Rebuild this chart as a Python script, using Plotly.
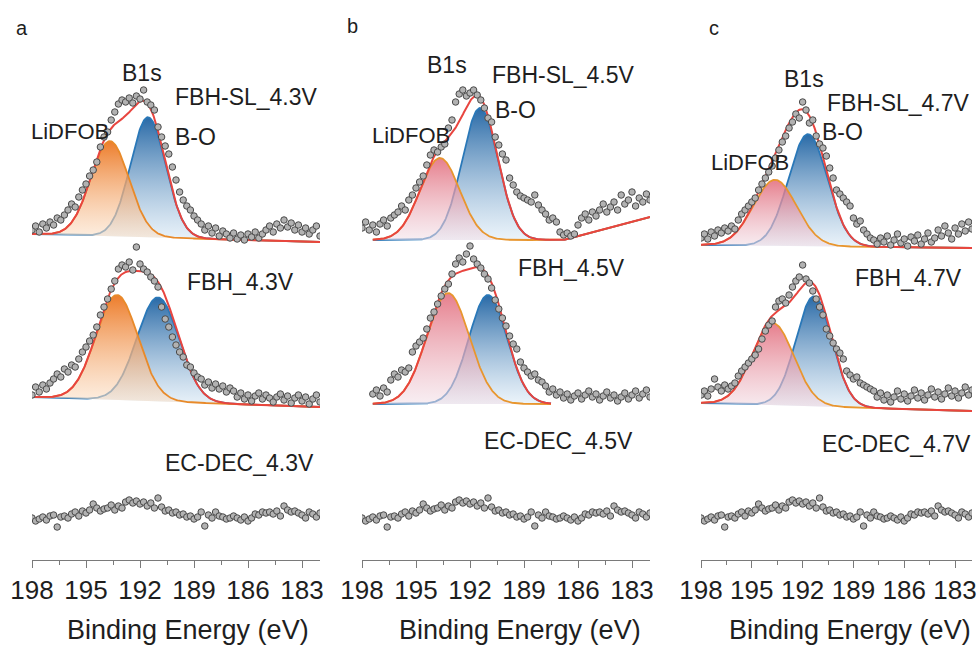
import numpy as np
import plotly.graph_objects as go

# ---------------- data ----------------
# binding-energy grid of the measured points (eV), 198.0 -> 182.0 in 0.2 eV steps
ENERGY = [round(198.0 - 0.2 * i, 1) for i in range(81)]

# measured intensities (a.u., relative to each spectrum's own baseline)
A_SL_43 = [12, 16, 10, 18, 14, 20, 17, 24, 22, 27, 32, 38, 35, 45, 52, 58, 66, 72, 80,
           95, 105, 110, 122, 130, 138, 142, 140, 144, 139, 146, 143, 152, 140, 137, 132,
           115, 105, 96, 88, 75, 62, 50, 42, 36, 32, 26, 22, 18, 12, 16, 9, 14, 6, 11, 8, 4,
           9, 3, 7, 2, 8, 5, 10, 4, 8, 12, 16, 10, 18, 14, 22, 15, 19, 12, 17, 10, 14, 8, 12, 16, 6]
A_FBH_43 = [12, 20, 15, 22, 18, 24, 28, 33, 30, 38, 35, 42, 40, 48, 55, 60, 66, 72, 80,
            92, 100, 108, 118, 126, 138, 142, 140, 145, 137, 160, 143, 138, 135, 130, 126, 120,
            100, 88, 80, 70, 62, 55, 50, 42, 40, 34, 30, 28, 22, 25, 19, 23, 18, 21, 15, 19,
            16, 10, 14, 8, 12, 6, 11, 14, 8, 12, 9, 5, 10, 13, 7, 11, 4, 9, 12, 6, 10, 3, 8, 12, 5]
EC_DEC = [2, -1, 1, 3, 0, 4, 5, -7, 3, 4, 2, 6, 8, 4, 9, 7, 10, 16, 12, 9, 11, 12, 15, 10,
          14, 12, 18, 20, 17, 19, 16, 18, 14, 17, 12, 22, 13, 9, 10, 7, 8, 5, 6, 3, 4, 1, 3, 8,
          -6, 5, 2, 8, 4, 3, 1, 2, 4, 2, 0, 3, -1, 2, 6, 5, 8, 7, 8, 6, 9, 4, 14, 10, 8, 9, 7,
          5, 2, 8, 6, 3, 7]
B_SL_45 = [12, 18, 10, 15, 8, 16, 20, 14, 22, 25, 28, 34, 30, 40, 45, 52, 58, 64, 75, 85,
           90, 88, 93, 96, 112, 120, 138, 146, 150, 144, 147, 150, 145, 140, 132, 122, 118,
           103, 95, 86, 80, 62, 55, 48, 44, 42, 40, 38, 45, 35, 30, 26, 20, 22, 18, 8, 5, 7, 4,
           6, 15, 22, 26, 20, 28, 24, 30, 36, 28, 33, 38, 30, 45, 36, 40, 48, 34, 42, 38, 46, 40]
B_FBH_45 = [None, None, None, 10, 14, 8, 16, 12, 24, 30, 27, 34, 32, 36, 52, 58, 62, 66, 75,
            86, 92, 100, 108, 115, 120, 130, 140, 146, 142, 150, 158, 145, 140, 136, 130, 125,
            116, 104, 95, 86, 78, 68, 60, 55, 42, 36, 32, 28, 30, 24, 22, 18, 12, 15, 9, 12, 6,
            10, 4, 8, 11, 5, 9, 13, 7, 10, 4, 8, 12, 6, 9, 3, 7, 11, 5, 9, 13, 6, 10, 14, 7]
C_SL_47 = [10, 14, 9, 16, 12, 18, 15, 20, 17, 22, 19, 28, 34, 38, 42, 46, 50, 58, 64, 70,
           76, 82, 90, 98, 106, 112, 120, 126, 134, 130, 146, 138, 125, 128, 112, 104, 100,
           92, 80, 70, 58, 54, 50, 46, 42, 30, 24, 27, 18, 14, 10, 8, 4, 10, 6, 12, 3, 8, 14,
           5, 9, 2, 11, 7, 13, 4, 9, 15, 6, 10, 18, 12, 22, 15, 9, 20, 14, 24, 17, 26, 19]
C_FBH_47 = [16, 20, 15, 22, 32, 24, 20, 26, 22, 25, 28, 35, 40, 44, 48, 52, 56, 62, 72, 80,
            86, 90, 104, 110, 112, 108, 116, 124, 130, 134, 146, 132, 128, 120, 112, 104, 96,
            82, 75, 68, 62, 58, 52, 40, 36, 32, 34, 28, 26, 24, 22, 20, 14, 18, 11, 16, 9, 14,
            20, 12, 17, 10, 15, 21, 13, 18, 11, 16, 22, 14, 19, 12, 17, 23, 15, 20, 13, 18, 24,
            16, 21]

# peak-fit results (order: SL_4.3, FBH_4.3, SL_4.5, FBH_4.5, SL_4.7, FBH_4.7)
LIDFOB_CENTER = [193.67, 193.28, 193.67, 193.22, 193.63, 193.75]
LIDFOB_HEIGHT = [95, 105, 82, 111, 66, 82]
LIDFOB_FWHM = [2.5, 2.75, 2.6, 2.8, 3.0, 2.9]
BO_CENTER = [191.55, 191.0, 191.44, 191.0, 191.68, 191.33]
BO_HEIGHT = [120, 104, 132, 109, 112, 110]
BO_FWHM = [2.3, 2.75, 2.35, 2.5, 2.7, 2.5]
# background knots (eV, intensity)
BG_E = [[198, 182], [198, 182], [197.4, 186.8, 182], [197.4, 187.5], [198, 182], [198, 182]]
BG_I = [[8, 0], [10, 0], [0, 0, 23], [0, 0], [3, 0], [8, 0]]

SAMPLES = ["FBH-SL_4.3V", "FBH_4.3V", "FBH-SL_4.5V", "FBH_4.5V", "FBH-SL_4.7V", "FBH_4.7V"]
SPECTRA = [A_SL_43, A_FBH_43, B_SL_45, B_FBH_45, C_SL_47, C_FBH_47]
EC_LABELS = ["EC-DEC_4.3V", "EC-DEC_4.5V", "EC-DEC_4.7V"]
TICKS = [198, 195, 192, 189, 186, 183]

# ---------------- style / layout ----------------
W, H = 979, 646
MT, MB = 10, 86
PH = H - MT - MB
OFFSET = [318, 153, 320, 156, 312, 149]
EC_OFFSET = 40
DOMAINS = [(32, 320), (362, 650), (701, 972)]
FONT = "Liberation Sans, Arial, sans-serif"
TXT = "#1e1e1e"

ORANGE_A = dict(line="#E88A2A", top="rgba(236,118,32,0.95)", bot="rgba(252,230,208,0.55)")
PINK = dict(line="#E8962E", top="rgba(226,104,120,0.85)", bot="rgba(242,224,232,0.55)")
BLUE = dict(line="#2A78B8", top="rgba(30,98,162,0.95)", bot="rgba(222,236,247,0.6)")
RED = "#E8453F"


def gauss(e, c, h, fwhm):
    s = fwhm / 2.3548
    return h * np.exp(-0.5 * ((e - c) / s) ** 2)


fig = go.Figure()


def add_component(xa, ya, e, bg, comp, off, pal):
    xs = np.concatenate([e, e[::-1]])
    ys = np.concatenate([bg + comp, bg[::-1]]) + off
    fig.add_trace(go.Scatter(x=xs, y=ys, xaxis=xa, yaxis=ya, mode="lines", fill="toself",
                             line=dict(width=0), hoverinfo="skip", showlegend=False,
                             fillgradient=dict(type="vertical",
                                               colorscale=[[0, pal["bot"]], [1, pal["top"]]])))
    fig.add_trace(go.Scatter(x=e, y=bg + comp + off, xaxis=xa, yaxis=ya, mode="lines",
                             line=dict(color=pal["line"], width=1.8), hoverinfo="skip",
                             showlegend=False))


def add_points(xa, ya, vals, off):
    v = np.array([np.nan if q is None else q for q in vals], dtype=float) + off
    fig.add_trace(go.Scatter(x=ENERGY, y=v, xaxis=xa, yaxis=ya, mode="markers",
                             marker=dict(size=6.5, color="#b2b2b2",
                                         line=dict(width=1, color="#4a4a4a")),
                             hoverinfo="skip", showlegend=False))


for i, vals in enumerate(SPECTRA):
    col = i // 2
    xa = "x" if col == 0 else f"x{col + 1}"
    ya = "y" if col == 0 else f"y{col + 1}"
    off = OFFSET[i]
    e = np.linspace(BG_E[i][0], BG_E[i][-1], 400)
    bg = np.interp(e[::-1], BG_E[i][::-1], BG_I[i][::-1])[::-1]
    c1 = gauss(e, LIDFOB_CENTER[i], LIDFOB_HEIGHT[i], LIDFOB_FWHM[i])
    c2 = gauss(e, BO_CENTER[i], BO_HEIGHT[i], BO_FWHM[i])
    add_component(xa, ya, e, bg, c2, off, BLUE)
    add_component(xa, ya, e, bg, c1, off, ORANGE_A if col == 0 else PINK)
    fig.add_trace(go.Scatter(x=e, y=bg + c1 + c2 + off, xaxis=xa, yaxis=ya, mode="lines",
                             line=dict(color=RED, width=2), hoverinfo="skip",
                             showlegend=False))
    add_points(xa, ya, vals, off)

for col in range(3):
    xa = "x" if col == 0 else f"x{col + 1}"
    ya = "y" if col == 0 else f"y{col + 1}"
    add_points(xa, ya, EC_DEC, EC_OFFSET)

axis_common = dict(range=[198, 182], showgrid=False, zeroline=False, showline=True,
                   linecolor="#7a7a7a", linewidth=1, ticks="outside", ticklen=7,
                   tickcolor="#7a7a7a", tickvals=TICKS, ticktext=[str(t) for t in TICKS],
                   tickfont=dict(family=FONT, size=26, color=TXT), automargin=False,
                   minor=dict(tickvals=[196.5, 193.5, 190.5, 187.5, 184.5], ticklen=4,
                              ticks="outside", tickcolor="#7a7a7a"))
yaxis_common = dict(range=[0, PH], visible=False, domain=[0, 1], automargin=False)

layout = dict(width=W, height=H, margin=dict(l=0, r=0, t=MT, b=MB, autoexpand=False),
              paper_bgcolor="white", plot_bgcolor="rgba(0,0,0,0)", showlegend=False)
for col in range(3):
    sx = "" if col == 0 else str(col + 1)
    d0, d1 = DOMAINS[col]
    layout[f"xaxis{sx}"] = dict(axis_common, domain=[d0 / W, d1 / W], anchor=f"y{sx}")
    layout[f"yaxis{sx}"] = dict(yaxis_common, anchor=f"x{sx}")
fig.update_layout(**layout)


def ann(text, px, py, size=23):
    fig.add_annotation(x=px / W, y=(H - MB - py) / PH, xref="paper", yref="paper",
                       text=text, showarrow=False, xanchor="center", yanchor="middle",
                       font=dict(family=FONT, size=size, color=TXT))


# panel letters
ann("a", 22, 28, 20)
ann("b", 352, 26, 20)
ann("c", 714, 28, 20)
# panel a
ann("B1s", 142, 73)
ann(SAMPLES[0], 246, 97)
ann("LiDFOB", 70, 131, 22)
ann("B-O", 195, 137)
ann(SAMPLES[1], 240, 282)
ann(EC_LABELS[0], 239, 463)
# panel b
ann("B1s", 447, 65)
ann(SAMPLES[2], 563, 75)
ann("B-O", 515, 110)
ann("LiDFOB", 411, 135, 22)
ann(SAMPLES[3], 571, 268)
ann(EC_LABELS[1], 558, 441)
# panel c
ann("B1s", 804, 79)
ann(SAMPLES[4], 898, 103)
ann("B-O", 842, 132)
ann("LiDFOB", 750, 162, 22)
ann(SAMPLES[5], 908, 278)
ann(EC_LABELS[2], 896, 444)
# axis titles
for cx in (188, 520, 850):
    ann("Binding Energy (eV)", cx, 630, 27)

fig.write_html("out.html")
